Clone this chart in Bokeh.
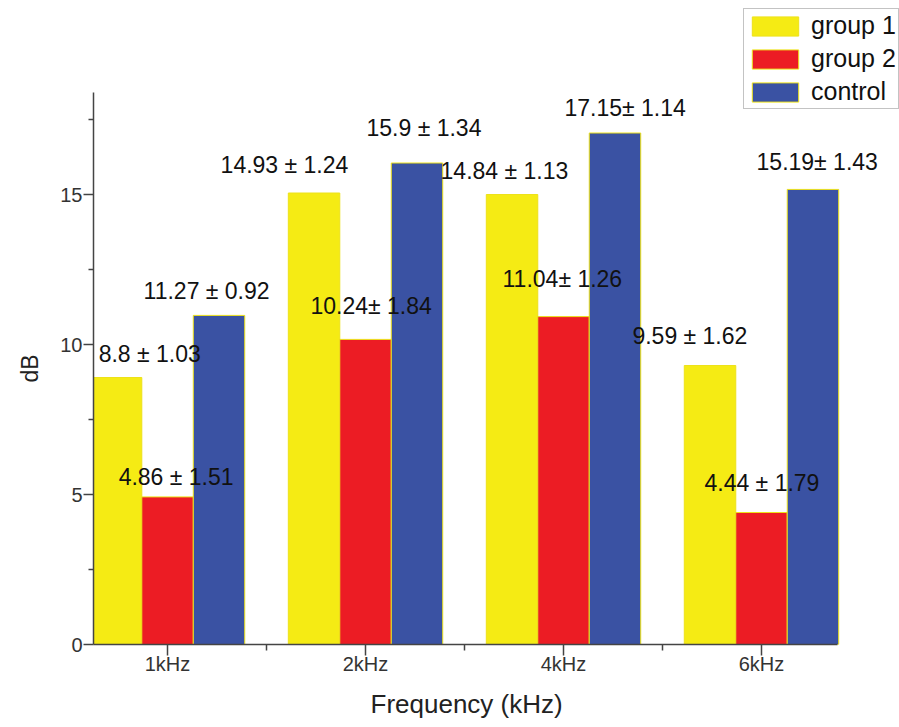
from bokeh.plotting import figure
from bokeh.models import (ColumnDataSource, FixedTicker, Range1d, Legend, LegendItem,
                          LabelSet, Title)
from bokeh.core.properties import value
from bokeh.transform import dodge
from bokeh.embed import file_html
from bokeh.resources import INLINE

# ---- data ----
categories = ["1kHz", "2kHz", "4kHz", "6kHz"]
cat_pos = [1, 2, 3, 4]
group1 = [8.9, 15.05, 15.0, 9.3]
group2 = [4.92, 10.17, 10.93, 4.4]
control = [10.97, 16.05, 17.05, 15.17]

label_texts = ["8.8 ± 1.03", "4.86 ± 1.51", "11.27 ± 0.92",
               "14.93 ± 1.24", "10.24± 1.84", "15.9 ± 1.34",
               "14.84 ± 1.13", "11.04± 1.26", "17.15± 1.14",
               "9.59 ± 1.62", "4.44 ± 1.79", "15.19± 1.43"]
label_x = [0.652, 0.753, 0.879, 1.268, 1.722, 2.005, 2.379, 2.692, 3.005, 3.348, 3.712, 3.975]
label_y = [9.70, 5.57, 11.80, 15.97, 11.30, 17.23, 15.77, 12.20, 17.87, 10.30, 5.40, 16.07]

y_ticks = [0, 5, 10, 15]
y_minor = [2.5, 7.5, 12.5, 17.5]
x_minor = [1.5, 2.5, 3.5]
x_axis_extent = (0.626, 4.384)
y_axis_extent = (0, 18.4)

YELLOW = "#F5EB14"
RED = "#EC1C24"
BLUE = "#3A52A3"
EDGE = "#EDE21A"
FONT = "Liberation Sans"

src = ColumnDataSource(dict(x=cat_pos, g1=group1, g2=group2, c=control))

p = figure(width=899, height=727, output_backend="svg", toolbar_location=None,
           x_range=Range1d(0.626, 4.697), y_range=Range1d(0, 21.467),
           min_border_left=93, min_border_right=0, min_border_top=0,
           min_border_bottom=83)
p.outline_line_color = None
p.xgrid.visible = False
p.ygrid.visible = False

bw = 0.26
r1 = p.vbar(x=dodge("x", -0.26, range=p.x_range), top="g1", width=bw, source=src,
            fill_color=YELLOW, line_color=EDGE, line_width=1)
r2 = p.vbar(x=dodge("x", 0.0, range=p.x_range), top="g2", width=bw, source=src,
            fill_color=RED, line_color=EDGE, line_width=1)
r3 = p.vbar(x=dodge("x", 0.26, range=p.x_range), top="c", width=bw, source=src,
            fill_color=BLUE, line_color=EDGE, line_width=1)

lsrc = ColumnDataSource(dict(x=label_x, y=label_y, t=label_texts))
labels = LabelSet(x="x", y="y", text="t", source=lsrc, text_align="left",
                  text_baseline="middle", text_font=value(FONT),
                  text_font_size=value("23px"), text_color="#111111")
p.add_layout(labels)

# axes
p.xaxis.ticker = FixedTicker(ticks=cat_pos, minor_ticks=x_minor)
p.xaxis.major_label_overrides = {k: v for k, v in zip(cat_pos, categories)}
p.yaxis.ticker = FixedTicker(ticks=y_ticks, minor_ticks=y_minor)
p.xaxis.bounds = x_axis_extent
p.yaxis.bounds = y_axis_extent
for ax in (p.xaxis[0], p.yaxis[0]):
    ax.axis_line_color = "#444444"
    ax.axis_line_width = 1.5
    ax.major_tick_line_color = "#444444"
    ax.minor_tick_line_color = "#444444"
    ax.major_tick_line_width = 1.5
    ax.minor_tick_line_width = 1.5
    ax.major_tick_in = 0
    ax.minor_tick_in = 0
    ax.major_label_text_font = FONT
    ax.major_label_text_color = "#333333"

p.xaxis.major_tick_out = 11
p.xaxis.minor_tick_out = 6
p.yaxis.major_tick_out = 10
p.yaxis.minor_tick_out = 5
p.xaxis.major_label_text_font_size = "20px"
p.yaxis.major_label_text_font_size = "20px"
p.xaxis.major_label_standoff = -3
p.yaxis.major_label_standoff = 1

# axis titles, placed along the drawn axis extent rather than the whole frame
xtitle = Title(text="Frequency (kHz)", align="left", offset=277, standoff=18,
               text_font=FONT, text_font_size="26px", text_font_style="normal",
               text_color="#222222")
p.add_layout(xtitle, "below")
ytitle = Title(text="dB", align="left", offset=262, standoff=29,
               text_font=FONT, text_font_size="23px", text_font_style="normal",
               text_color="#222222")
p.add_layout(ytitle, "left")

legend = Legend(items=[LegendItem(label="group 1", renderers=[r1]),
                       LegendItem(label="group 2", renderers=[r2]),
                       LegendItem(label="control", renderers=[r3])],
                location=(650, 535), orientation="vertical",
                glyph_width=58, glyph_height=24, label_height=24,
                label_standoff=7, spacing=4, padding=2, margin=0,
                label_text_font=FONT, label_text_font_size="25px",
                label_text_color="#111111",
                border_line_color="#888888", border_line_width=1,
                background_fill_color="white", background_fill_alpha=1.0)
p.add_layout(legend)

open("out.html", "w").write(file_html(p, INLINE))
